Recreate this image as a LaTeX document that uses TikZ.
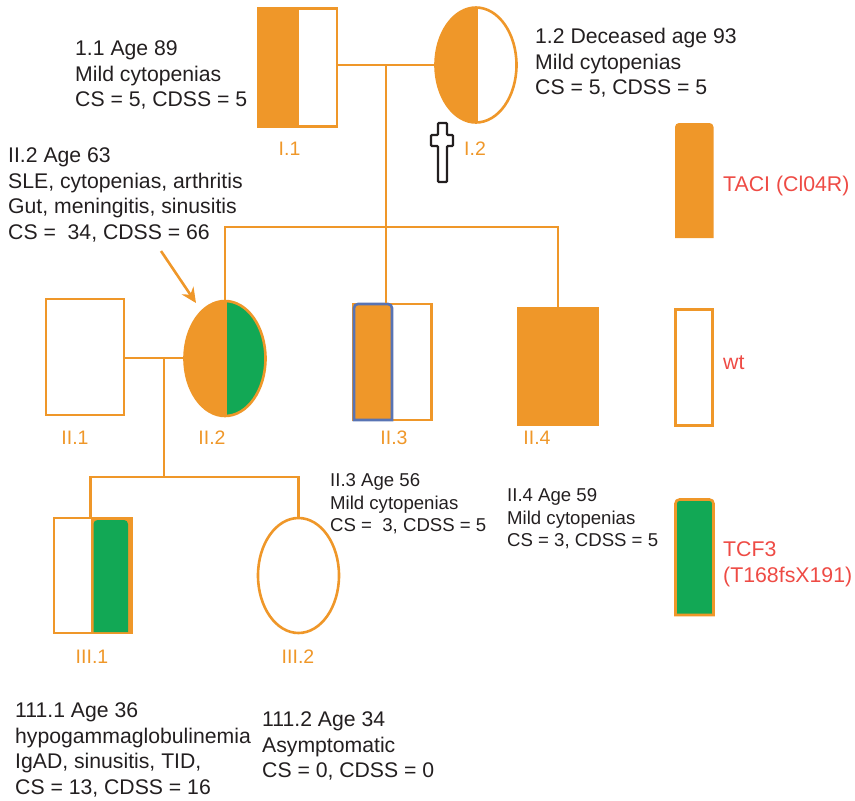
\documentclass[tikz,border=0pt]{standalone}
\usepackage{fontspec}
\setmainfont{Liberation Sans}
\usetikzlibrary{positioning,arrows.meta,shapes.geometric}

\definecolor{pedorange}{HTML}{EF9729}
\definecolor{pedgreen}{HTML}{12A855}
\definecolor{pedblue}{HTML}{5874B4}
\definecolor{pedred}{HTML}{EE4B45}
\definecolor{pedtext}{HTML}{231F20}

\tikzset{
  line/.style={draw=pedorange, line width=2.6pt},
  square/.style={line, rectangle, fill=white, minimum width=78pt, minimum height=116pt, inner sep=0pt},
  circ/.style={line, ellipse, fill=white, minimum width=81pt, minimum height=115pt, inner sep=0pt},
  halfleft/.style={path picture={\fill[pedorange] (path picture bounding box.south west) rectangle ([xshift=#1]path picture bounding box.north west);}},
  halfboth/.style={path picture={\fill[pedorange] (path picture bounding box.south west) rectangle ([xshift=#1]path picture bounding box.north west);
    \fill[pedgreen] (path picture bounding box.south east) rectangle ([xshift=#1]path picture bounding box.north west);}},
  idlabel/.style={text=pedorange, font=\fontsize{19.5}{23}\selectfont, inner sep=0pt},
  info/.style={text=pedtext, anchor=west, align=left, inner sep=0pt, font=\fontsize{21.2}{25.5}\selectfont},
  infosmall/.style={info, font=\fontsize{18.6}{22.5}\selectfont},
  keylabel/.style={info, text=pedred, font=\fontsize{21.3}{26}\selectfont},
}

% bar with round top corners: x1, top, x2, bottom
\newcommand{\roundbar}[5][]{\path[#1] (#2,#5) [rounded corners=4pt] -- (#2,#3) -- (#4,#3) [sharp corners] -- (#4,#5) -- cycle;}

\begin{document}
\begin{tikzpicture}[x=1pt, y=-1pt, >=Stealth]
  \useasboundingbox (0,0) rectangle (855,801);

  % generation I
  \node[square, minimum width=79pt, minimum height=118pt, halfleft=41pt] (i1) at (297.5,67.5) {};
  \node[circ, halfleft=42pt] (i2) at (476,65) {};
  \node[idlabel, below=14pt of i1, xshift=-8pt] (i1l) {I.1};
  \node[idlabel] (i2l) at (475,149) {I.2};
  \draw[pedtext, line width=2.4pt, fill=white, rounded corners=1pt] (438,123) -- (447,123) -- (447,135) -- (453,135) -- (453,146) -- (447,146) -- (447,182) -- (438,182) -- (438,146) -- (431,146) -- (431,135) -- (438,135) -- cycle;

  % generation II
  \node[square] (ii1) at (85,357) {};
  \node[circ, halfboth=42pt] (ii2) at (225,358.5) {};
  \node[square, minimum height=116pt] (ii3) at (392.5,362) {};
  \roundbar[fill=pedorange, draw=pedblue, line width=2.6pt]{354}{304}{392}{420}
  \node[square, fill=pedorange, minimum width=79pt, minimum height=117pt] (ii4) at (558,366.5) {};
  \node[idlabel] (ii1l) at (75,438) {II.1};
  \node[idlabel] (ii2l) at (212,438) {II.2};
  \node[idlabel] (ii3l) at (394,438) {II.3};
  \node[idlabel] (ii4l) at (537,438) {II.4};

  % generation III
  \node[square, minimum height=115pt] (iii1) at (93,575.5) {};
  \node[square, fill=pedorange, minimum width=40pt, minimum height=115pt] (iii1t) at (112,575.5) {};
  \roundbar[fill=pedgreen]{93.5}{520}{128}{632}
  \node[circ] (iii2) at (298.5,575.5) {};
  \node[idlabel] (iii1l) at (92,657) {III.1};
  \node[idlabel] (iii2l) at (298,657) {III.2};

  % connectors
  \coordinate (m1) at (386,65);
  \coordinate (b1) at (386,227);
  \coordinate (m2) at (164,358);
  \coordinate (b2) at (164,477);
  \coordinate (a1) at (161,251);
  \coordinate (a2) at (196,303);
  \draw[line] (i1.east |- m1) -- (i2.west);
  \draw[line] (m1) -- (m1 |- ii3.north);
  \draw[line] (ii2.north) |- (b1) -| (ii4.north);
  \draw[line] (ii1.east |- m2) -- (ii2.west |- m2);
  \draw[line] (m2) -- (b2);
  \draw[line] (iii1t.north west) |- (b2) -| (iii2.north);
  \draw[line, -{Stealth[length=15pt, width=14pt]}] (a1) -- (a2);

  % key
  \roundbar[fill=pedorange]{675}{123}{713.5}{238}
  \node[square, minimum width=37pt, minimum height=116pt] (keywt) at (694,367.5) {};
  \roundbar[fill=pedgreen, draw=pedorange, line width=2.6pt]{675.5}{499.5}{713.5}{615}
  \node[keylabel] (keytaci) at (723,186) {TACI (Cl04R)};
  \node[keylabel] (keywtl) at (723,363) {wt};
  \node[keylabel] (keytcf) at (723,564) {TCF3\\(T168fsX191)};

  % case notes
  \node[info] (n11) at (75,75) {1.1 Age 89\\Mild cytopenias\\CS = 5, CDSS = 5};
  \node[info] (n12) at (535,63) {1.2 Deceased age 93\\Mild cytopenias\\CS = 5, CDSS = 5};
  \node[info] (n22) at (8,195) {II.2 Age 63\\SLE, cytopenias, arthritis\\Gut, meningitis, sinusitis\\CS = \ 34, CDSS = 66};
  \node[infosmall] (n23) at (330,504) {II.3 Age 56\\Mild cytopenias\\CS = \ 3, CDSS = 5};
  \node[infosmall] (n24) at (507,519) {II.4 Age 59\\Mild cytopenias\\CS = 3, CDSS = 5};
  \node[info] (n31) at (15,750) {111.1 Age 36\\hypogammaglobulinemia\\IgAD, sinusitis, TID,\\CS = 13, CDSS = 16};
  \node[info] (n32) at (262,746) {111.2 Age 34\\Asymptomatic\\CS = 0, CDSS = 0};
\end{tikzpicture}
\end{document}
